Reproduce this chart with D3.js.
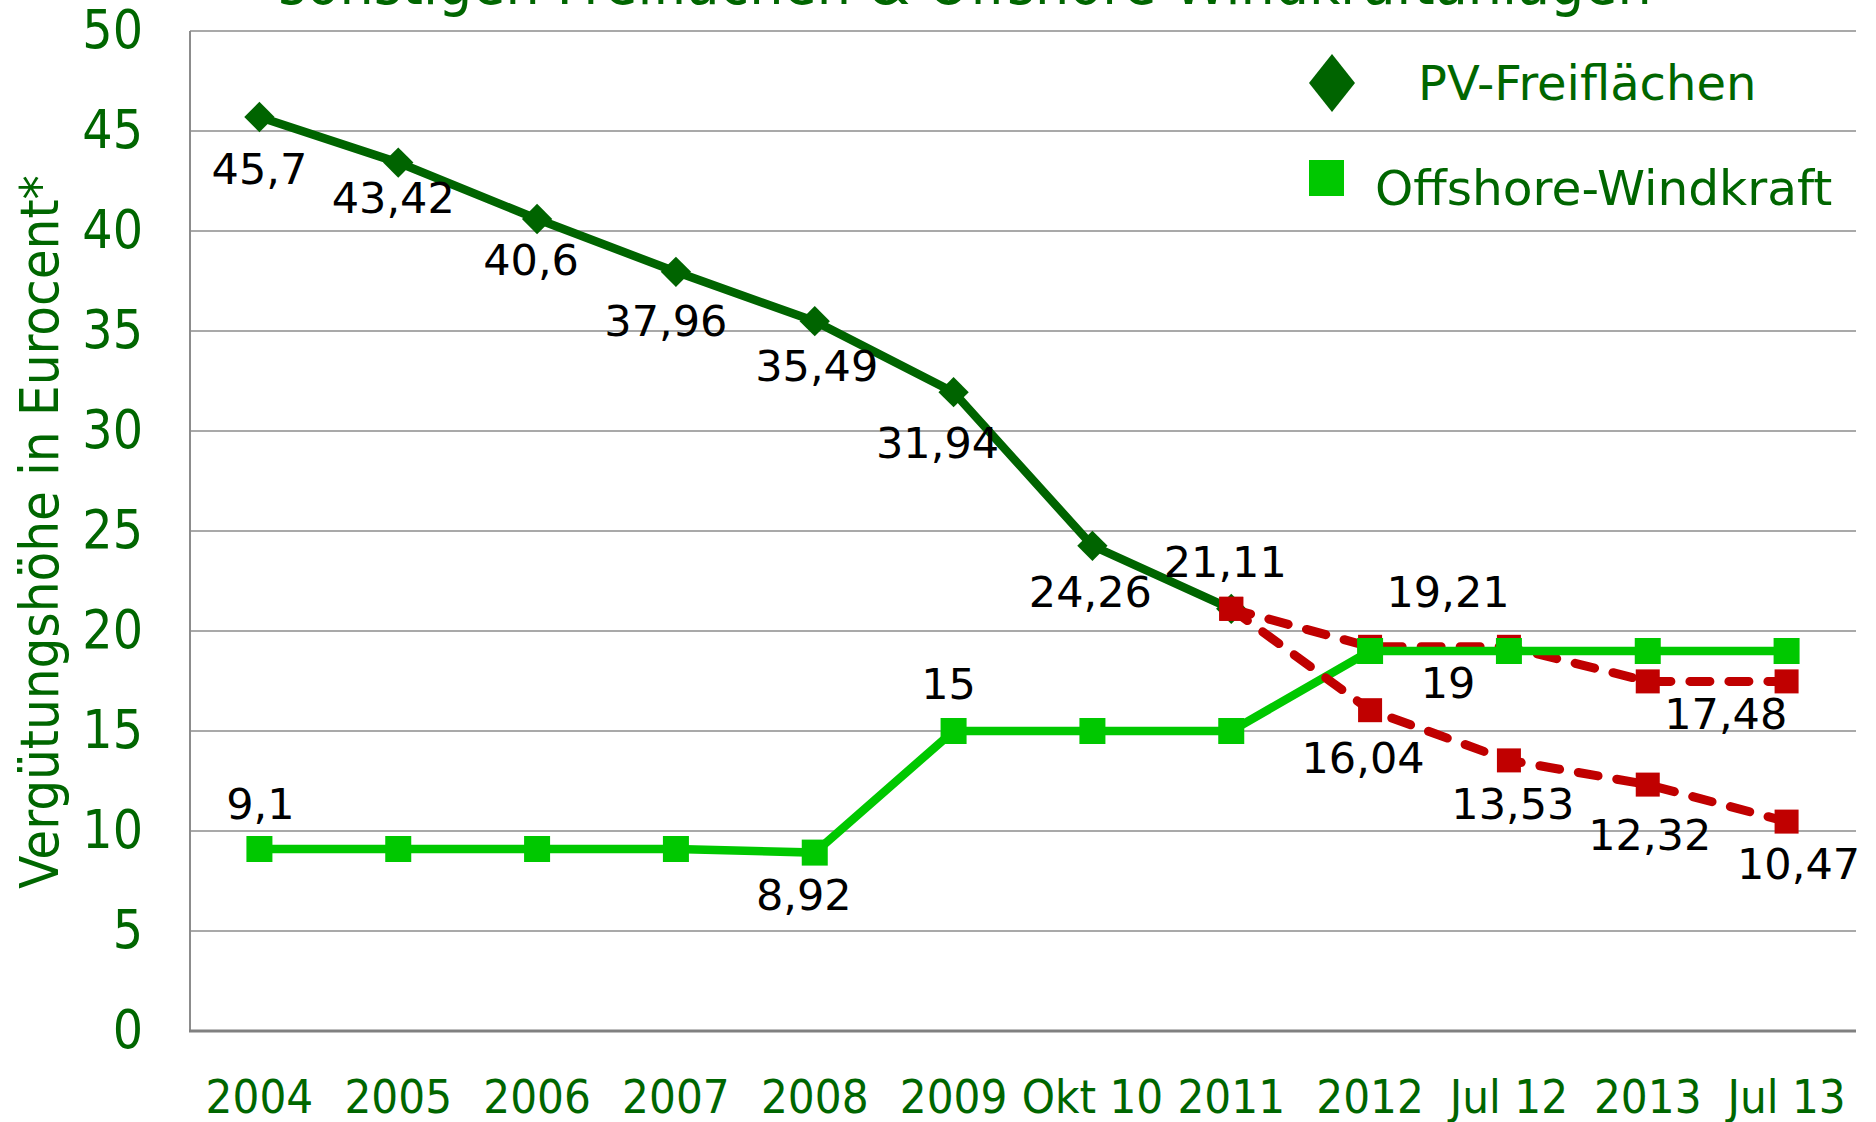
<!DOCTYPE html>
<html>
<head>
<meta charset="utf-8">
<script src="https://cdn.jsdelivr.net/npm/d3@7"></script>
<style>
  html, body { margin: 0; padding: 0; background: #fff; }
  svg { display: block; }
</style>
</head>
<body>
<div id="chart"></div>
<script>
// categories and values
var categories = ["2004", "2005", "2006", "2007", "2008", "2009", "Okt 10", "2011", "2012", "Jul 12", "2013", "Jul 13"];
var pvValues = [45.7, 43.42, 40.6, 37.96, 35.49, 31.94, 24.26, 21.11];     // 2004 - 2011
var pvHighValues = [21.11, 19.21, 19.21, 17.48, 17.48];                    // 2011 - Jul 13
var pvLowValues = [21.11, 16.04, 13.53, 12.32, 10.47];                     // 2011 - Jul 13
var offshoreValues = [9.1, 9.1, 9.1, 9.1, 8.92, 15, 15, 15, 19, 19, 19, 19];
var yTicks = [0, 5, 10, 15, 20, 25, 30, 35, 40, 45, 50];
var legendNames = ["PV-Freiflächen", "Offshore-Windkraft"];
var titleText = "sonstigen Freiflächen & Offshore-Windkraftanlagen";
var yTitle = "Vergütungshöhe in Eurocent*";

var W = 1876, H = 1122;
var cond = "'DejaVu Sans Condensed', 'DejaVu Sans', sans-serif";
var reg = "'DejaVu Sans', Verdana, sans-serif";
var green = "#006600";

var svg = d3.select("#chart").append("svg")
  .attr("width", W).attr("height", H);

var x = d3.scaleBand().domain(categories).range([190, 1856]).padding(0);
var y = d3.scaleLinear().domain([0, 50]).range([1031, 31]);
function cx(c) { return x(c) + x.bandwidth() / 2; }

// build point lists
var pvPts = pvValues.map(function(v, i) { return {c: categories[i], v: v}; });
var hiPts = pvHighValues.map(function(v, i) { return {c: categories[i + 7], v: v}; });
var loPts = pvLowValues.map(function(v, i) { return {c: categories[i + 7], v: v}; });
var offPts = offshoreValues.map(function(v, i) { return {c: categories[i], v: v}; });

// title (second line, cut at the top)
svg.append("text")
  .attr("x", 965).attr("y", 4)
  .attr("text-anchor", "middle")
  .style("font-family", cond).style("font-size", "60px")
  .attr("fill", green)
  .text(titleText);

// grid
svg.append("g").selectAll("line")
  .data(yTicks.filter(function(d) { return d > 0; }))
  .enter().append("line")
  .attr("x1", 190).attr("x2", 1856)
  .attr("y1", function(d) { return y(d); })
  .attr("y2", function(d) { return y(d); })
  .attr("stroke", "#8c8c8c").attr("stroke-width", 1.6);

svg.append("line")
  .attr("x1", 190).attr("x2", 190).attr("y1", y(50)).attr("y2", y(0))
  .attr("stroke", "#8c8c8c").attr("stroke-width", 2);
svg.append("line")
  .attr("x1", 189).attr("x2", 1856).attr("y1", y(0)).attr("y2", y(0))
  .attr("stroke", "#808080").attr("stroke-width", 3);

// axes
var yAxis = svg.append("g")
  .attr("transform", "translate(190,0)")
  .call(d3.axisLeft(y).tickValues(yTicks).tickSize(0).tickPadding(47));
yAxis.select(".domain").remove();
yAxis.selectAll("text")
  .style("font-family", cond).style("font-size", "53px")
  .attr("fill", green);

var xAxis = svg.append("g")
  .attr("transform", "translate(0," + y(0) + ")")
  .call(d3.axisBottom(x).tickSize(0));
xAxis.select(".domain").remove();
xAxis.selectAll("text")
  .attr("y", 82).attr("dy", 0)
  .style("font-family", cond).style("font-size", "47px")
  .attr("fill", green);

svg.append("text")
  .attr("transform", "translate(58,532) rotate(-90)")
  .attr("text-anchor", "middle")
  .style("font-family", cond).style("font-size", "54px")
  .attr("fill", green)
  .text(yTitle);

var line = d3.line()
  .x(function(d) { return cx(d.c); })
  .y(function(d) { return y(d.v); });

function squares(pts, size, color) {
  svg.append("g").selectAll("rect")
    .data(pts).enter().append("rect")
    .attr("x", function(d) { return cx(d.c) - size / 2; })
    .attr("y", function(d) { return y(d.v) - size / 2; })
    .attr("width", size).attr("height", size)
    .attr("fill", color);
}

// PV line
svg.append("path").datum(pvPts)
  .attr("d", line).attr("fill", "none")
  .attr("stroke", "#006400").attr("stroke-width", 8.5);
svg.append("g").selectAll("path")
  .data(pvPts).enter().append("path")
  .attr("d", d3.symbol(d3.symbolSquare, 460))
  .attr("transform", function(d) { return "translate(" + cx(d.c) + "," + y(d.v) + ") rotate(45)"; })
  .attr("fill", "#006400");

// upper red branch
svg.append("path").datum(hiPts)
  .attr("d", line).attr("fill", "none")
  .attr("stroke", "#c00000").attr("stroke-width", 9)
  .attr("stroke-dasharray", "20,19").attr("stroke-linecap", "round");
squares(hiPts, 24, "#c00000");

// offshore line
svg.append("path").datum(offPts)
  .attr("d", line).attr("fill", "none")
  .attr("stroke", "#00c800").attr("stroke-width", 8.5);
squares(offPts, 26, "#00c800");

// lower red branch
svg.append("path").datum(loPts)
  .attr("d", line).attr("fill", "none")
  .attr("stroke", "#c00000").attr("stroke-width", 9)
  .attr("stroke-dasharray", "20,19").attr("stroke-linecap", "round");
squares(loPts, 24, "#c00000");

// data labels: [points, index, dx, dy] (dy = centre offset from point)
var labels = [
  [pvPts, 0, 0, 52], [pvPts, 1, -5, 35], [pvPts, 2, -6, 41], [pvPts, 3, -10, 49],
  [pvPts, 4, 2, 45], [pvPts, 5, -16, 51], [pvPts, 6, -2, 46], [pvPts, 7, -6, -47],
  [hiPts, 1, 78, -55], [hiPts, 3, 78, 33],
  [loPts, 1, -7, 48], [loPts, 2, 4, 44], [loPts, 3, 2, 50], [loPts, 4, 12, 42],
  [offPts, 0, 1, -45], [offPts, 4, -11, 42], [offPts, 5, -5, -47], [offPts, 8, 78, 32]
];
svg.append("g").selectAll("text")
  .data(labels).enter().append("text")
  .attr("x", function(d) { return cx(d[0][d[1]].c) + d[2]; })
  .attr("y", function(d) { return y(d[0][d[1]].v) + d[3] + 15; })
  .attr("text-anchor", "middle")
  .style("font-family", reg).style("font-size", "43px")
  .attr("fill", "#000")
  .text(function(d) { return String(d[0][d[1]].v).replace(".", ","); });

// legend
var lg = svg.append("g");
lg.append("path")
  .attr("d", d3.symbol(d3.symbolSquare, 1058))
  .attr("transform", "translate(1332,83) scale(1,1.26) rotate(45)")
  .attr("fill", "#006400");
lg.append("rect")
  .attr("x", 1309).attr("y", 160).attr("width", 35).attr("height", 36)
  .attr("fill", "#00c800");
lg.append("text")
  .attr("x", 1418).attr("y", 100)
  .style("font-family", reg).style("font-size", "48px")
  .attr("fill", green).text(legendNames[0]);
lg.append("text")
  .attr("x", 1375).attr("y", 205)
  .style("font-family", reg).style("font-size", "48.6px")
  .attr("fill", green).text(legendNames[1]);
</script>
</body>
</html>
